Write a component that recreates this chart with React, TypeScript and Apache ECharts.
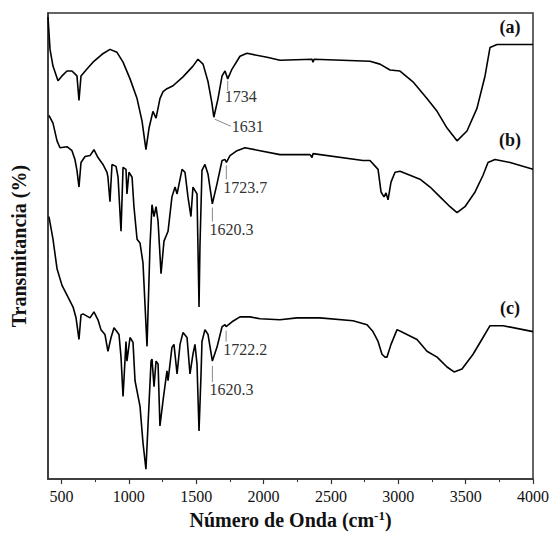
import React, { useEffect, useRef } from 'react';
import * as echarts from 'echarts';

// FTIR spectra: [wavenumber (cm-1), relative transmittance (arb. units)]
const spectrumA: [number, number][] = [
  [400, 470], [415, 437], [437, 420], [474, 405], [504, 410], [541, 415], [578, 415], [615, 410],
  [630, 385], [645, 410], [689, 417], [734, 424], [801, 432], [860, 437], [912, 434], [957, 424],
  [1009, 407], [1061, 387], [1098, 364], [1127, 335], [1150, 357], [1179, 374], [1202, 367],
  [1231, 387], [1254, 394], [1283, 397], [1328, 400], [1402, 409], [1476, 420], [1513, 427],
  [1551, 422], [1588, 404], [1617, 382], [1631, 368], [1662, 387], [1692, 410], [1714, 415],
  [1734, 407], [1766, 417], [1825, 430], [1877, 433], [2026, 429], [2122, 426], [2360, 427],
  [2367, 424], [2375, 427], [2790, 425], [2864, 422], [2939, 416], [3013, 415], [3109, 404],
  [3213, 387], [3288, 374], [3362, 357], [3436, 344], [3510, 354], [3584, 377], [3644, 410],
  [3681, 439], [3733, 442], [4000, 442],
];

const spectrumB: [number, number][] = [
  [407, 370], [437, 362], [467, 344], [489, 337], [541, 338], [578, 334], [600, 325], [615, 314],
  [630, 297], [645, 322], [675, 328], [712, 329], [741, 335], [771, 327], [808, 320], [838, 312],
  [845, 307], [860, 282], [875, 320], [905, 318], [920, 307], [942, 252], [957, 317], [979, 315],
  [986, 290], [1001, 312], [1024, 307], [1038, 277], [1061, 244], [1083, 240], [1105, 220],
  [1135, 135], [1157, 237], [1172, 279], [1187, 267], [1202, 277], [1217, 262], [1239, 209],
  [1261, 242], [1291, 252], [1320, 287], [1343, 297], [1358, 290], [1395, 315], [1417, 312],
  [1439, 287], [1461, 267], [1476, 297], [1506, 290], [1513, 237], [1521, 175], [1528, 237],
  [1543, 314], [1565, 320], [1588, 310], [1620, 280], [1654, 300], [1692, 324], [1714, 325],
  [1724, 322], [1751, 329], [1803, 334], [1862, 337], [1974, 334], [2122, 330], [2345, 330],
  [2360, 327], [2367, 331], [2738, 324], [2790, 324], [2850, 315], [2872, 292], [2894, 287],
  [2909, 291], [2924, 284], [2946, 302], [2976, 312], [3013, 313], [3087, 309], [3161, 305],
  [3236, 297], [3310, 287], [3384, 277], [3436, 271], [3495, 277], [3570, 292], [3629, 309],
  [3666, 322], [3718, 325], [3830, 322], [4000, 315],
];

const spectrumC: [number, number][] = [
  [407, 267], [437, 244], [467, 214], [504, 197], [541, 187], [586, 175], [608, 164], [615, 157],
  [630, 142], [645, 167], [660, 168], [712, 164], [741, 170], [771, 162], [793, 152], [823, 147],
  [845, 130], [868, 144], [890, 154], [927, 147], [942, 124], [957, 84], [979, 140], [986, 120],
  [1009, 144], [1031, 139], [1046, 100], [1083, 74], [1105, 37], [1127, 10], [1142, 54],
  [1165, 120], [1172, 122], [1187, 94], [1202, 120], [1217, 117], [1231, 54], [1254, 80],
  [1283, 110], [1291, 100], [1320, 134], [1335, 137], [1358, 107], [1380, 137], [1402, 149],
  [1432, 144], [1454, 107], [1476, 127], [1491, 137], [1506, 117], [1521, 49], [1536, 107],
  [1543, 140], [1565, 152], [1588, 147], [1620, 120], [1654, 134], [1692, 155], [1714, 157],
  [1722, 155], [1766, 160], [1825, 165], [1899, 165], [1974, 163], [2122, 162], [2248, 164],
  [2419, 164], [2664, 161], [2768, 157], [2812, 150], [2850, 140], [2879, 127], [2902, 124],
  [2916, 124], [2946, 137], [2991, 152], [3035, 149], [3139, 142], [3213, 130], [3288, 124],
  [3362, 114], [3414, 109], [3473, 112], [3555, 127], [3629, 144], [3681, 156], [3778, 156],
  [4000, 150],
];

const seriesNames = ['(a)', '(b)', '(c)'];
const majorTicks = [500, 1000, 1500, 2000, 2500, 3000, 3500, 4000];
const minorTicks = [750, 1250, 1750, 2250, 2750, 3250, 3750];

const peakLabels = [
  { series: 0, text: '1734', wn: 1734, kind: 'v' },
  { series: 0, text: '1631', wn: 1631, kind: 'diag' },
  { series: 1, text: '1723.7', wn: 1723.7, kind: 'v' },
  { series: 1, text: '1620.3', wn: 1620.3, kind: 'v' },
  { series: 2, text: '1722.2', wn: 1722.2, kind: 'v' },
  { series: 2, text: '1620.3', wn: 1620.3, kind: 'v' },
];
// leader layout per annotation: [line start gap, line end gap, text offset] in px below the trace
const leaderLayout: [number, number, number][] = [
  [2, 12, 18], [0, 0, 0], [3, 17, 25], [4, 18, 26], [4, 15, 23], [5, 21, 29],
];

const SERIF = '"Liberation Serif", "Times New Roman", serif';

function interp(data: [number, number][], x: number): number {
  for (let i = 0; i < data.length - 1; i++) {
    const [x0, y0] = data[i];
    const [x1, y1] = data[i + 1];
    if (x >= x0 && x <= x1) {
      return y0 + ((y1 - y0) * (x - x0)) / (x1 - x0);
    }
  }
  return data[data.length - 1][1];
}

export default function App() {
  const ref = useRef<HTMLDivElement>(null);

  useEffect(() => {
    document.body.style.margin = '0';
    if (!ref.current) return;
    const chart = echarts.init(ref.current, null, { renderer: 'svg' });
    const spectra = [spectrumA, spectrumB, spectrumC];
    const axisColor = '#333';

    chart.setOption({
      animation: false,
      backgroundColor: '#fff',
      grid: {
        left: 48,
        right: 23,
        top: 13,
        bottom: 48,
        show: true,
        borderColor: axisColor,
        borderWidth: 1.5,
      },
      xAxis: [
        {
          type: 'value',
          min: 400,
          max: 4000,
          position: 'bottom',
          name: 'Número de Onda (cm{sup|-1})',
          nameLocation: 'middle',
          nameGap: 25,
          nameTextStyle: {
            fontFamily: SERIF,
            fontWeight: 'bold',
            fontSize: 20,
            color: '#111',
            rich: {
              sup: {
                fontFamily: SERIF,
                fontWeight: 'bold',
                fontSize: 13,
                color: '#111',
                verticalAlign: 'top',
                padding: [0, 0, 9, 0],
              },
            },
          },
          axisLine: { show: true, onZero: false, lineStyle: { color: axisColor, width: 1.5 } },
          axisTick: { show: true, inside: false, length: 5, customValues: majorTicks, lineStyle: { color: axisColor, width: 1.2 } },
          axisLabel: {
            customValues: majorTicks,
            margin: 9,
            fontFamily: SERIF,
            fontSize: 16,
            color: '#111',
            formatter: (v: number) => String(v),
          },
          splitLine: { show: false },
        },
        {
          type: 'value',
          min: 400,
          max: 4000,
          position: 'bottom',
          axisLine: { show: false },
          axisTick: { show: true, inside: false, length: 3, customValues: minorTicks, lineStyle: { color: axisColor, width: 1 } },
          axisLabel: { show: false },
          splitLine: { show: false },
        },
      ],
      yAxis: {
        type: 'value',
        min: 0,
        max: 474,
        name: 'Transmitancia (%)',
        nameLocation: 'middle',
        nameGap: 19,
        nameTextStyle: {
          fontFamily: SERIF,
          fontWeight: 'bold',
          fontSize: 20,
          color: '#111',
        },
        axisLine: { show: true, lineStyle: { color: axisColor, width: 1.5 } },
        axisTick: { show: false },
        axisLabel: { show: false },
        splitLine: { show: false },
      },
      series: spectra.map((d, i) => ({
        name: seriesNames[i],
        type: 'line',
        data: d,
        xAxisIndex: 0,
        yAxisIndex: 0,
        showSymbol: false,
        symbol: 'none',
        lineStyle: { color: '#000', width: 1.6 },
        silent: true,
      })),
    });

    const graphics: any[] = [];
    peakLabels.forEach((p, idx) => {
      const val = interp(spectra[p.series], p.wn);
      const [px, py] = chart.convertToPixel({ seriesIndex: p.series }, [p.wn, val]) as number[];
      const [g0, g1, tOff] = leaderLayout[idx];
      if (p.kind === 'v') {
        graphics.push({
          type: 'line',
          shape: { x1: px, y1: py + g0, x2: px, y2: py + g1 },
          style: { stroke: '#888', lineWidth: 1 },
        });
        graphics.push({
          type: 'text',
          x: px - 3,
          y: py + tOff,
          style: { text: p.text, fontFamily: SERIF, fontSize: 16, fill: '#333', textAlign: 'left', textVerticalAlign: 'middle' },
        });
      } else {
        graphics.push({
          type: 'line',
          shape: { x1: px + 1, y1: py + 2, x2: px + 17, y2: py + 9 },
          style: { stroke: '#888', lineWidth: 1 },
        });
        graphics.push({
          type: 'text',
          x: px + 18,
          y: py + 9,
          style: { text: p.text, fontFamily: SERIF, fontSize: 16, fill: '#333', textAlign: 'left', textVerticalAlign: 'middle' },
        });
      }
    });

    // series labels (a), (b), (c) near the right end of each trace
    const labelLift = [17, 29, 24];
    spectra.forEach((d, i) => {
      const [px, py] = chart.convertToPixel({ seriesIndex: i }, [4000, d[d.length - 1][1]]) as number[];
      graphics.push({
        type: 'text',
        x: px - 23,
        y: py - labelLift[i],
        style: { text: seriesNames[i], fontFamily: SERIF, fontWeight: 'bold', fontSize: 18, fill: '#111', textAlign: 'center', textVerticalAlign: 'middle' },
      });
    });

    chart.setOption({ graphic: graphics });

    return () => {
      chart.dispose();
    };
  }, []);

  return <div ref={ref} style={{ width: 556, height: 535 }} />;
}
